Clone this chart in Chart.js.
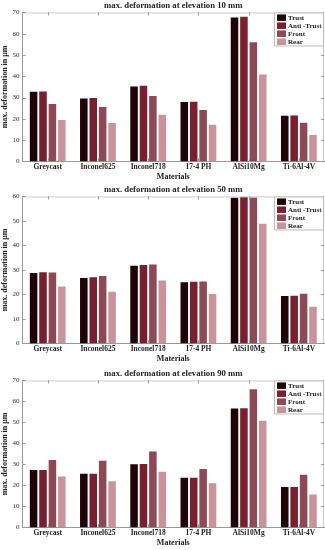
<!DOCTYPE html>
<html>
<head>
<meta charset="utf-8">
<script src="https://cdn.jsdelivr.net/npm/chart.js@4.4.0/dist/chart.umd.min.js"></script>
<style>
  body { margin: 0; background: #fff; }
  .wrap { position: relative; width: 325px; }
  #w1 { height: 182px; }
  #w2 { height: 184px; }
  #w3 { height: 184px; }
</style>
</head>
<body>
<div class="wrap" id="w1"><canvas id="c1"></canvas></div>
<div class="wrap" id="w2"><canvas id="c2"></canvas></div>
<div class="wrap" id="w3"><canvas id="c3"></canvas></div>
<script>
// materials on the x axis
const materials = ["Greycast", "Inconel625", "Inconel718", "17-4 PH", "AlSi10Mg", "Ti-6Al-4V"];
const seriesNames = ["Trust", "Anti -Trust", "Front", "Rear"];
const seriesColors = ["#1e0309", "#7a1f30", "#8c4a56", "#c8949c"];

// elevation 10 mm
const trust10 = [32.7, 29.5, 35.2, 27.9, 67.6, 21.5];
const antiTrust10 = [32.8, 29.8, 35.6, 28.0, 68.0, 21.6];
const front10 = [27.0, 25.6, 30.7, 24.2, 56.0, 18.2];
const rear10 = [19.5, 18.0, 21.9, 17.2, 40.8, 12.4];

// elevation 50 mm
const trust50 = [28.7, 26.7, 31.7, 25.0, 59.5, 19.4];
const antiTrust50 = [29.0, 27.0, 32.0, 25.2, 59.9, 19.5];
const front50 = [28.9, 27.5, 32.2, 25.3, 59.6, 20.3];
const rear50 = [23.2, 21.1, 25.7, 20.2, 48.9, 15.0];

// elevation 90 mm
const trust90 = [27.3, 25.5, 30.1, 23.6, 56.6, 19.2];
const antiTrust90 = [27.3, 25.6, 30.2, 23.6, 56.7, 19.3];
const front90 = [32.1, 31.8, 36.2, 27.8, 65.8, 25.1];
const rear90 = [24.3, 22.0, 26.5, 21.0, 50.8, 15.7];

const yTicks10 = [0, 10, 20, 30, 40, 50, 60, 70];
const yTicks50 = [0, 10, 20, 30, 40, 50, 60];
const yTicks90 = [0, 10, 20, 30, 40, 50, 60, 70];

const fontFam = "'Liberation Serif', 'DejaVu Serif', serif";

// box around plot + inward ticks + legend (matlab look)
const boxPlugin = {
  id: "box",
  afterDraw(chart) {
    const ctx = chart.ctx;
    const a = chart.chartArea;
    const y = chart.scales.y;
    const x = chart.scales.x;
    ctx.save();
    ctx.strokeStyle = "#c8c8c8";
    ctx.lineWidth = 1;
    ctx.beginPath();
    ctx.moveTo(a.left, a.top + 0.5);
    ctx.lineTo(a.right - 0.5, a.top + 0.5);
    ctx.lineTo(a.right - 0.5, a.bottom);
    ctx.stroke();
    ctx.strokeStyle = "#999";
    ctx.beginPath();
    y.ticks.forEach(t => {
      const py = Math.round(y.getPixelForValue(t.value)) + 0.5;
      ctx.moveTo(a.left, py); ctx.lineTo(a.left + 3, py);
      ctx.moveTo(a.right, py); ctx.lineTo(a.right - 3, py);
    });
    x.ticks.forEach((t, i) => {
      const px = Math.round(x.getPixelForTick(i)) + 0.5;
      ctx.moveTo(px, a.bottom); ctx.lineTo(px, a.bottom - 3);
      ctx.moveTo(px, a.top); ctx.lineTo(px, a.top + 3);
    });
    ctx.stroke();

    // legend
    const bw = 50, bh = 34;
    const bx = a.right - bw, by = a.top;
    ctx.fillStyle = "#fff";
    ctx.fillRect(bx, by, bw, bh);
    ctx.strokeStyle = "#bbb";
    ctx.strokeRect(bx + 0.5, by + 0.5, bw - 1, bh - 1);
    ctx.font = "bold 7px " + fontFam;
    ctx.textBaseline = "middle";
    chart.data.datasets.forEach((ds, i) => {
      const ry = by + 5 + i * 8;
      ctx.fillStyle = ds.backgroundColor;
      ctx.fillRect(bx + 3, ry - 3, 9, 6.5);
      ctx.fillStyle = "#222";
      ctx.fillText(ds.label, bx + 14, ry + 0.5);
    });
    ctx.restore();
  }
};

function makeChart(id, titleText, yTicks, values, padTop, padBottom) {
  const yMax = yTicks[yTicks.length - 1];
  return new Chart(document.getElementById(id), {
    type: "bar",
    data: {
      labels: materials,
      datasets: values.map((v, i) => ({
        label: seriesNames[i],
        data: v,
        backgroundColor: seriesColors[i],
        barPercentage: 0.8,
        categoryPercentage: 0.75
      }))
    },
    options: {
      responsive: true,
      maintainAspectRatio: false,
      animation: false,
      layout: { padding: { left: 0, right: 1, top: padTop, bottom: padBottom } },
      plugins: {
        legend: { display: false },
        tooltip: { enabled: false },
        title: {
          display: true,
          text: titleText,
          fullSize: false,
          color: "#222",
          font: { family: fontFam, size: 8.7, weight: "bold", lineHeight: 1.2 },
          padding: { top: 1, bottom: 1 }
        }
      },
      scales: {
        x: {
          grid: { display: false, drawTicks: false },
          border: { color: "#999" },
          ticks: { color: "#222", font: { family: fontFam, size: 7.5, weight: "bold", lineHeight: 1.2 }, padding: 1, maxRotation: 0, autoSkip: false },
          title: { display: true, text: "Materials", color: "#222", font: { family: fontFam, size: 8, weight: "bold", lineHeight: 1.2 }, padding: { top: 0, bottom: 0 } }
        },
        y: {
          min: 0,
          max: yMax,
          afterBuildTicks(scale) {
            scale.ticks = yTicks.map(v => ({ value: v }));
          },
          grid: { display: false, drawTicks: false },
          border: { color: "#999" },
          ticks: { color: "#333", font: { family: fontFam, size: 7 }, padding: 3 },
          title: { display: true, text: "max. deformation in μm", color: "#222", font: { family: fontFam, size: 8, weight: "bold" }, padding: { top: 0, bottom: 0 } }
        }
      }
    },
    plugins: [boxPlugin]
  });
}

makeChart("c1", "max. deformation at elevation 10 mm", yTicks10, [trust10, antiTrust10, front10, rear10], 0, 0);
makeChart("c2", "max. deformation at elevation 50 mm", yTicks50, [trust50, antiTrust50, front50, rear50], 2, 2);
makeChart("c3", "max. deformation at elevation 90 mm", yTicks90, [trust90, antiTrust90, front90, rear90], 2, 2);
</script>
</body>
</html>
